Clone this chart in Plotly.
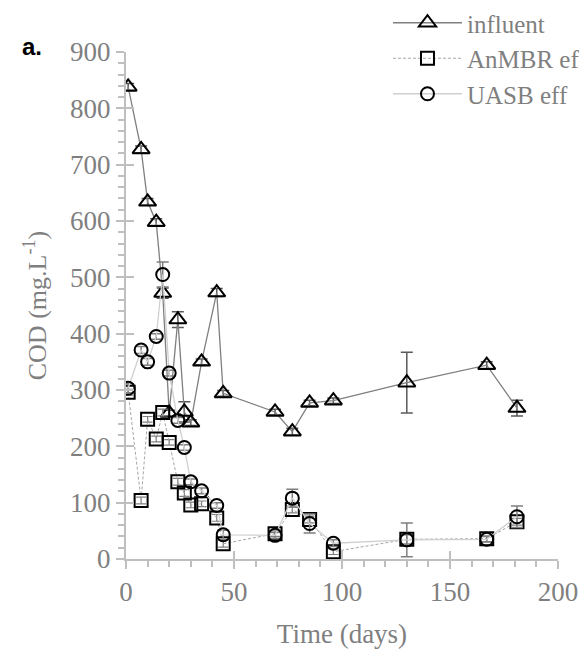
import plotly.graph_objects as go

days = [1, 7, 10, 14, 17, 20, 24, 27, 30, 35, 42, 45, 69, 77, 85, 96, 130, 167, 181]
influent = [838, 727, 634, 598, 472, 259, 425, 261, 242, 350, 473, 294, 261, 226, 277, 281, 313, 344, 268]
anmbr = [296, 104, 248, 213, 260, 207, 137, 117, 96, 98, 73, 27, 45, 88, 70, 13, 35, 36, 66]
uasb = [303, 371, 350, 395, 505, 330, 246, 198, 137, 121, 95, 43, 42, 108, 63, 28, 34, 35, 75]
influent_err = [6, 6, 6, 6, 9, 5, 14, 18, 5, 5, 7, 5, 5, 6, 5, 5, 54, 6, 14]
anmbr_err = [5, 6, 5, 5, 6, 5, 6, 6, 5, 5, 6, 6, 5, 6, 6, 5, 8, 5, 6]
uasb_err = [8, 6, 6, 5, 22, 5, 5, 5, 5, 5, 5, 8, 5, 16, 17, 6, 30, 5, 19]

SERIF = "Liberation Serif"
GRAY_TXT = "#7f7f7f"
AX = "#bfbfbf"

fig = go.Figure()
fig.add_trace(go.Scatter(
    x=days, y=influent, name="influent", mode="lines+markers", legendgroup="a",
    line=dict(color="#7f7f7f", width=1.3),
    marker=dict(symbol="triangle-up-open", size=15, color="black", line=dict(width=2, color="black")),
    error_y=dict(type="data", array=influent_err, color="#595959", thickness=1.5, width=6),
))
fig.add_trace(go.Scatter(
    x=days, y=anmbr, name="AnMBR ef", mode="lines+markers", legendgroup="b",
    line=dict(color="#a6a6a6", width=1, dash="3px,2px"),
    marker=dict(symbol="square-open", size=13, color="black", line=dict(width=2, color="black")),
    error_y=dict(type="data", array=anmbr_err, color="#7f7f7f", thickness=1.2, width=5),
))
fig.add_trace(go.Scatter(
    x=days, y=uasb, name="UASB eff", mode="lines+markers", legendgroup="c",
    line=dict(color="#d0d0d0", width=1.3),
    marker=dict(symbol="circle-open", size=13, color="black", line=dict(width=2, color="black")),
    error_y=dict(type="data", array=uasb_err, color="#7f7f7f", thickness=1.5, width=6),
))
# helper invisible trace so overlay axes (inside tick halves) are drawn
fig.add_trace(go.Scatter(x=[], y=[], xaxis="x2", yaxis="y2", showlegend=False, hoverinfo="skip"))

fig.update_layout(
    width=583, height=657,
    margin=dict(l=126, r=25, t=52, b=98, autoexpand=False),
    plot_bgcolor="white", paper_bgcolor="white",
    showlegend=True,
    legend=dict(x=0.6655, y=1.0, xref="container", yref="container",
                xanchor="left", yanchor="top", itemwidth=69,
                font=dict(family=SERIF, size=25, color=GRAY_TXT),
                bgcolor="rgba(0,0,0,0)", tracegroupgap=0),
    xaxis=dict(
        range=[0, 200], tick0=0, dtick=50, showgrid=False, zeroline=False,
        showline=True, linecolor=AX, linewidth=2,
        ticks="outside", ticklen=8, tickwidth=2, tickcolor=AX,
        minor=dict(dtick=10, ticks="outside", ticklen=6, tickwidth=1.5, tickcolor=AX),
        tickfont=dict(family=SERIF, size=27, color=GRAY_TXT),
        title=dict(text="Time (days)", font=dict(family=SERIF, size=27, color=GRAY_TXT), standoff=18),
    ),
    yaxis=dict(
        range=[0, 900], tick0=0, dtick=100, showgrid=False, zeroline=False,
        showline=True, linecolor=AX, linewidth=2,
        ticks="outside", ticklen=8, tickwidth=2, tickcolor=AX,
        minor=dict(dtick=20, ticks="outside", ticklen=6, tickwidth=1.5, tickcolor=AX),
        tickfont=dict(family=SERIF, size=27, color=GRAY_TXT),
        title=dict(text="COD (mg.L<sup>-1</sup>)", font=dict(family=SERIF, size=26, color=GRAY_TXT), standoff=16),
    ),
    xaxis2=dict(range=[0, 200], overlaying="x", anchor="y2", side="bottom", tick0=0, dtick=50,
                showgrid=False, zeroline=False, showline=False, showticklabels=False,
                ticks="inside", ticklen=8, tickwidth=2, tickcolor=AX),
    yaxis2=dict(range=[0, 900], overlaying="y", anchor="x2", side="left", tick0=0, dtick=100,
                showgrid=False, zeroline=False, showline=False, showticklabels=False,
                ticks="inside", ticklen=8, tickwidth=2, tickcolor=AX),
    annotations=[dict(text="<b>a.</b>", xref="paper", yref="paper", x=-0.245, y=1.01,
                      xanchor="left", yanchor="middle", showarrow=False,
                      font=dict(family="Liberation Sans", size=24, color="black"))],
)

fig.write_html("out.html")
